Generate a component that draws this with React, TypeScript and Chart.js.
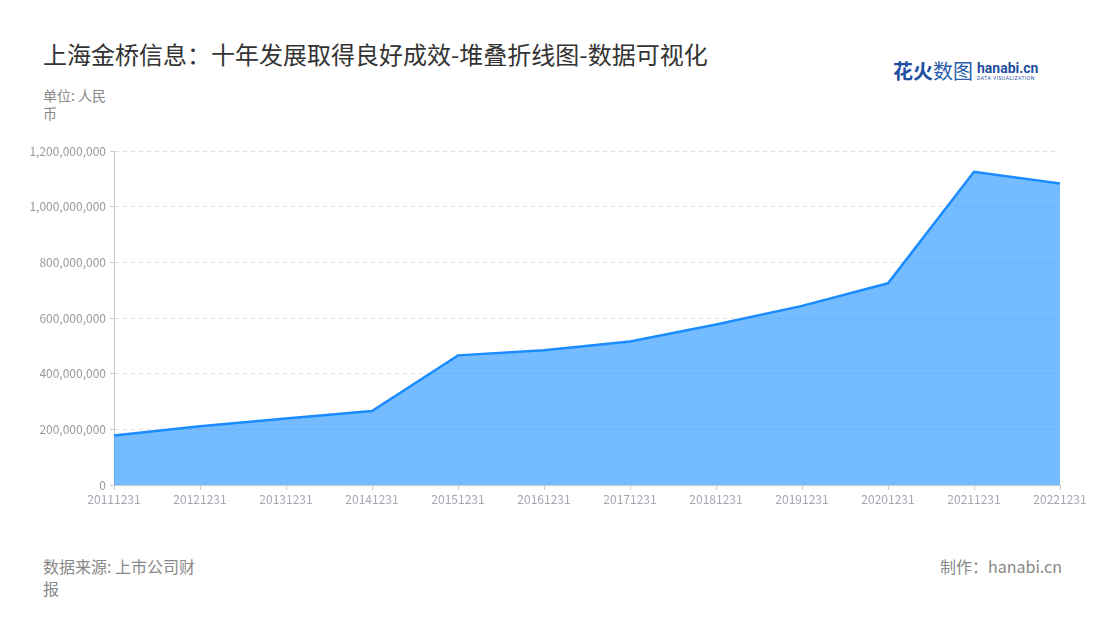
import { useEffect, useRef } from "react"
import { Chart, registerables } from "chart.js"

Chart.register(...registerables)

const categories = [
  "20111231", "20121231", "20131231", "20141231", "20151231", "20161231",
  "20171231", "20181231", "20191231", "20201231", "20211231", "20221231",
]

// 单位: 人民币
const revenue = [
  178000000, 211000000, 239000000, 266000000, 466000000, 484000000,
  516000000, 577000000, 644000000, 725000000, 1126000000, 1084000000,
]

const yTicks = [0, 200000000, 400000000, 600000000, 800000000, 1000000000, 1200000000]

const FONT = "'Noto Sans CJK SC', 'Noto Sans', sans-serif"

function AreaChart() {
  const chartRef = useRef<HTMLCanvasElement>(null)
  const chartInstance = useRef<Chart | null>(null)

  useEffect(() => {
    if (!chartRef.current) return
    if (chartInstance.current) chartInstance.current.destroy()
    const ctx = chartRef.current.getContext("2d")
    if (!ctx) return

    chartInstance.current = new Chart(ctx, {
      type: "line",
      data: {
        labels: categories,
        datasets: [
          {
            label: "营业收入",
            data: revenue,
            borderColor: "#1a8cff",
            borderWidth: 2.5,
            backgroundColor: "rgba(24, 144, 255, 0.6)",
            fill: "origin",
            pointRadius: 0,
            tension: 0,
          },
        ],
      },
      options: {
        responsive: false,
        animation: false,
        layout: { padding: { left: 0, right: 40, top: 10, bottom: 0 } },
        plugins: {
          legend: { display: false },
          tooltip: { enabled: false },
        },
        scales: {
          x: {
            offset: false,
            grid: {
              display: true,
              drawOnChartArea: false,
              tickLength: 5,
              color: "#cccccc",
            },
            border: { color: "#cccccc", width: 1 },
            ticks: {
              color: "#a3a6b0",
              font: { family: FONT, size: 12 },
              maxRotation: 0,
              autoSkip: false,
              padding: 2,
            },
            afterFit: (scale: any) => {
              scale.height = 25
            },
          },
          y: {
            min: 0,
            max: 1200000000,
            afterBuildTicks: (scale: any) => {
              scale.ticks = yTicks.map((v) => ({ value: v }))
            },
            grid: {
              color: "#dedede",
              tickLength: 4,
              tickColor: "#cccccc",
              tickBorderDash: [],
            },
            border: { color: "#c8c8c8", width: 1, dash: [4, 4] },
            ticks: {
              color: "#999999",
              font: { family: FONT, size: 12 },
              padding: 4,
              callback: (v: any) => Number(v).toLocaleString("en-US"),
            },
            afterFit: (scale: any) => {
              scale.width = 114
            },
          },
        },
      },
    })

    return () => {
      if (chartInstance.current) {
        chartInstance.current.destroy()
        chartInstance.current = null
      }
    }
  }, [])

  return <canvas ref={chartRef} width={1100} height={370} style={{ width: 1100, height: 370 }} />
}

export default function App() {
  return (
    <div
      style={{
        position: "fixed",
        left: 0,
        top: 0,
        width: 1100,
        height: 620,
        background: "#fff",
        fontFamily: FONT,
        overflow: "hidden",
      }}
    >
      <div style={{ position: "absolute", left: 43, top: 38, fontSize: 24, color: "#333", lineHeight: "32px" }}>
        上海金桥信息：十年发展取得良好成效-堆叠折线图-数据可视化
      </div>
      <div style={{ position: "absolute", left: 893, top: 58, display: "flex", alignItems: "center" }}>
        <span style={{ fontSize: 20, fontWeight: 700, color: "#1f4fa0", lineHeight: "26px" }}>花火</span>
        <span style={{ fontSize: 20, fontWeight: 400, color: "#2a5cab", lineHeight: "26px" }}>数图</span>
        <span style={{ marginLeft: 4, display: "flex", flexDirection: "column" }}>
          <span style={{ fontSize: 14, fontWeight: 700, color: "#1f4fa0", lineHeight: "14px", fontFamily: "Roboto, sans-serif" }}>
            hanabi.cn
          </span>
          <span style={{ fontSize: 5, color: "#1f4fa0", lineHeight: "7px", letterSpacing: 0.5, fontFamily: "Roboto, sans-serif" }}>
            DATA VISUALIZATION
          </span>
        </span>
      </div>
      <div style={{ position: "absolute", left: 43, top: 86, width: 72, fontSize: 14, color: "#888", lineHeight: "18px" }}>
        单位: 人民币
      </div>
      <div style={{ position: "absolute", left: 0, top: 140 }}>
        <AreaChart />
      </div>
      <div style={{ position: "absolute", left: 43, top: 555, width: 160, fontSize: 16, color: "#888", lineHeight: "22px" }}>
        数据来源: 上市公司财报
      </div>
      <div style={{ position: "absolute", right: 38, top: 555, fontSize: 16, color: "#888", lineHeight: "22px" }}>
        制作：hanabi.cn
      </div>
    </div>
  )
}
